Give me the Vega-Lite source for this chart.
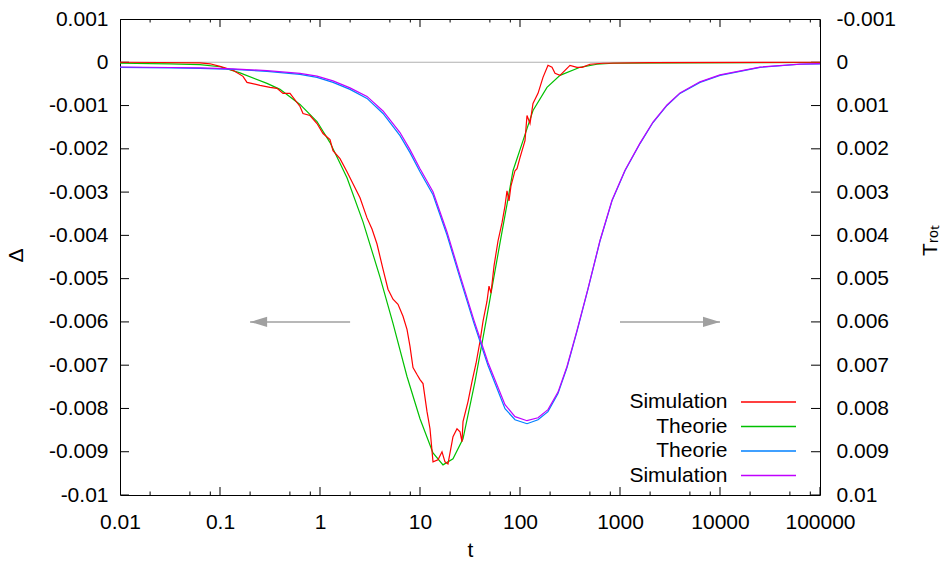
{
  "$schema": "https://vega.github.io/schema/vega-lite/v6.json",
  "width": 700,
  "height": 476,
  "autosize": {"type": "none"},
  "padding": {"left": 120, "top": 19, "right": 123, "bottom": 67},
  "config": {
    "font": "Liberation Sans",
    "view": {"stroke": "black", "strokeWidth": 1},
    "axis": {
      "domain": false,
      "grid": false,
      "ticks": false,
      "labelColor": "black",
      "labelFontSize": 21,
      "labelFont": "Liberation Sans",
      "titleFont": "Liberation Sans",
      "titleFontSize": 21,
      "titleFontWeight": "normal",
      "titleColor": "black",
      "labelOverlap": false,
      "labelFlush": false
    }
  },
  "datasets": {
    "zero": [{"v": 0}],
    "xticks": [
      {"t": 0.01}, {"t": 0.02}, {"t": 0.05}, {"t": 0.08},
      {"t": 0.1}, {"t": 0.2}, {"t": 0.5}, {"t": 0.8},
      {"t": 1}, {"t": 2}, {"t": 5}, {"t": 8},
      {"t": 10}, {"t": 20}, {"t": 50}, {"t": 80},
      {"t": 100}, {"t": 200}, {"t": 500}, {"t": 800},
      {"t": 1000}, {"t": 2000}, {"t": 5000}, {"t": 8000},
      {"t": 10000}, {"t": 20000}, {"t": 50000}, {"t": 80000},
      {"t": 100000}
    ],
    "yticks": [
      {"v": -0.01}, {"v": -0.009}, {"v": -0.008}, {"v": -0.007}, {"v": -0.006}, {"v": -0.005},
      {"v": -0.004}, {"v": -0.003}, {"v": -0.002}, {"v": -0.001}, {"v": 0}, {"v": 0.001}
    ],
    "arrows": [
      {"from": 2, "to": 0.2, "level": -0.006, "dir": "left"},
      {"from": 1000, "to": 10000, "level": -0.006, "dir": "right"}
    ],
    "delta": [
      {"t": 0.01, "v": -0.000023, "s": "Theorie Δ"},
      {"t": 0.03162, "v": -0.000035, "s": "Theorie Δ"},
      {"t": 0.0631, "v": -0.000053, "s": "Theorie Δ"},
      {"t": 0.1, "v": -0.000104, "s": "Theorie Δ"},
      {"t": 0.1585, "v": -0.000244, "s": "Theorie Δ"},
      {"t": 0.2951, "v": -0.000487, "s": "Theorie Δ"},
      {"t": 0.3981, "v": -0.000626, "s": "Theorie Δ"},
      {"t": 0.631, "v": -0.000974, "s": "Theorie Δ"},
      {"t": 0.9333, "v": -0.001369, "s": "Theorie Δ"},
      {"t": 1.259, "v": -0.001856, "s": "Theorie Δ"},
      {"t": 1.862, "v": -0.002668, "s": "Theorie Δ"},
      {"t": 2.692, "v": -0.003689, "s": "Theorie Δ"},
      {"t": 3.981, "v": -0.004965, "s": "Theorie Δ"},
      {"t": 5.37, "v": -0.006032, "s": "Theorie Δ"},
      {"t": 7.413, "v": -0.007262, "s": "Theorie Δ"},
      {"t": 10, "v": -0.008237, "s": "Theorie Δ"},
      {"t": 13.49, "v": -0.009026, "s": "Theorie Δ"},
      {"t": 16.98, "v": -0.009304, "s": "Theorie Δ"},
      {"t": 21.38, "v": -0.009165, "s": "Theorie Δ"},
      {"t": 26.92, "v": -0.008701, "s": "Theorie Δ"},
      {"t": 35.48, "v": -0.007378, "s": "Theorie Δ"},
      {"t": 45.71, "v": -0.005986, "s": "Theorie Δ"},
      {"t": 53.7, "v": -0.005081, "s": "Theorie Δ"},
      {"t": 63.1, "v": -0.004176, "s": "Theorie Δ"},
      {"t": 75.86, "v": -0.003155, "s": "Theorie Δ"},
      {"t": 85.11, "v": -0.002506, "s": "Theorie Δ"},
      {"t": 107.2, "v": -0.00181, "s": "Theorie Δ"},
      {"t": 134.9, "v": -0.001114, "s": "Theorie Δ"},
      {"t": 186.2, "v": -0.00058, "s": "Theorie Δ"},
      {"t": 251.2, "v": -0.000302, "s": "Theorie Δ"},
      {"t": 398.1, "v": -0.000116, "s": "Theorie Δ"},
      {"t": 588.8, "v": -0.000046, "s": "Theorie Δ"},
      {"t": 851.1, "v": -0.000023, "s": "Theorie Δ"},
      {"t": 3981, "v": -0.000012, "s": "Theorie Δ"},
      {"t": 100000, "v": -0.000005, "s": "Theorie Δ"},
      {"t": 0.01, "v": 0, "s": "Simulation Δ"},
      {"t": 0.02512, "v": -0.000005, "s": "Simulation Δ"},
      {"t": 0.0631, "v": -0.000012, "s": "Simulation Δ"},
      {"t": 0.07943, "v": -0.000035, "s": "Simulation Δ"},
      {"t": 0.1, "v": -0.000093, "s": "Simulation Δ"},
      {"t": 0.1349, "v": -0.000186, "s": "Simulation Δ"},
      {"t": 0.1698, "v": -0.000325, "s": "Simulation Δ"},
      {"t": 0.1862, "v": -0.000464, "s": "Simulation Δ"},
      {"t": 0.2512, "v": -0.000534, "s": "Simulation Δ"},
      {"t": 0.3162, "v": -0.00058, "s": "Simulation Δ"},
      {"t": 0.3715, "v": -0.000603, "s": "Simulation Δ"},
      {"t": 0.4266, "v": -0.000719, "s": "Simulation Δ"},
      {"t": 0.5012, "v": -0.000719, "s": "Simulation Δ"},
      {"t": 0.631, "v": -0.001021, "s": "Simulation Δ"},
      {"t": 0.6761, "v": -0.001183, "s": "Simulation Δ"},
      {"t": 0.7943, "v": -0.00123, "s": "Simulation Δ"},
      {"t": 0.9333, "v": -0.001415, "s": "Simulation Δ"},
      {"t": 1.072, "v": -0.001647, "s": "Simulation Δ"},
      {"t": 1.259, "v": -0.001787, "s": "Simulation Δ"},
      {"t": 1.349, "v": -0.002042, "s": "Simulation Δ"},
      {"t": 1.585, "v": -0.002227, "s": "Simulation Δ"},
      {"t": 1.862, "v": -0.002529, "s": "Simulation Δ"},
      {"t": 2.138, "v": -0.002807, "s": "Simulation Δ"},
      {"t": 2.512, "v": -0.003132, "s": "Simulation Δ"},
      {"t": 2.951, "v": -0.003596, "s": "Simulation Δ"},
      {"t": 3.311, "v": -0.003852, "s": "Simulation Δ"},
      {"t": 3.715, "v": -0.0042, "s": "Simulation Δ"},
      {"t": 4.266, "v": -0.00478, "s": "Simulation Δ"},
      {"t": 4.786, "v": -0.005244, "s": "Simulation Δ"},
      {"t": 5.37, "v": -0.005476, "s": "Simulation Δ"},
      {"t": 6.026, "v": -0.005592, "s": "Simulation Δ"},
      {"t": 6.761, "v": -0.00587, "s": "Simulation Δ"},
      {"t": 7.413, "v": -0.006172, "s": "Simulation Δ"},
      {"t": 7.943, "v": -0.006566, "s": "Simulation Δ"},
      {"t": 8.511, "v": -0.007053, "s": "Simulation Δ"},
      {"t": 9.333, "v": -0.007216, "s": "Simulation Δ"},
      {"t": 10, "v": -0.007332, "s": "Simulation Δ"},
      {"t": 10.72, "v": -0.007425, "s": "Simulation Δ"},
      {"t": 11.75, "v": -0.008074, "s": "Simulation Δ"},
      {"t": 12.59, "v": -0.008469, "s": "Simulation Δ"},
      {"t": 13.49, "v": -0.009234, "s": "Simulation Δ"},
      {"t": 15.14, "v": -0.009188, "s": "Simulation Δ"},
      {"t": 16.6, "v": -0.009002, "s": "Simulation Δ"},
      {"t": 17.78, "v": -0.009234, "s": "Simulation Δ"},
      {"t": 19.05, "v": -0.009281, "s": "Simulation Δ"},
      {"t": 21.38, "v": -0.008654, "s": "Simulation Δ"},
      {"t": 23.44, "v": -0.008469, "s": "Simulation Δ"},
      {"t": 25.12, "v": -0.008538, "s": "Simulation Δ"},
      {"t": 26.3, "v": -0.00877, "s": "Simulation Δ"},
      {"t": 26.92, "v": -0.008306, "s": "Simulation Δ"},
      {"t": 30.2, "v": -0.007842, "s": "Simulation Δ"},
      {"t": 33.11, "v": -0.007378, "s": "Simulation Δ"},
      {"t": 36.31, "v": -0.006961, "s": "Simulation Δ"},
      {"t": 39.81, "v": -0.00645, "s": "Simulation Δ"},
      {"t": 42.66, "v": -0.005986, "s": "Simulation Δ"},
      {"t": 46.77, "v": -0.005522, "s": "Simulation Δ"},
      {"t": 48.98, "v": -0.005174, "s": "Simulation Δ"},
      {"t": 51.29, "v": -0.005336, "s": "Simulation Δ"},
      {"t": 54.95, "v": -0.00471, "s": "Simulation Δ"},
      {"t": 60.26, "v": -0.00413, "s": "Simulation Δ"},
      {"t": 66.07, "v": -0.003712, "s": "Simulation Δ"},
      {"t": 70.79, "v": -0.003318, "s": "Simulation Δ"},
      {"t": 74.13, "v": -0.00297, "s": "Simulation Δ"},
      {"t": 77.62, "v": -0.003202, "s": "Simulation Δ"},
      {"t": 81.28, "v": -0.002854, "s": "Simulation Δ"},
      {"t": 89.13, "v": -0.002506, "s": "Simulation Δ"},
      {"t": 93.33, "v": -0.002459, "s": "Simulation Δ"},
      {"t": 100, "v": -0.002204, "s": "Simulation Δ"},
      {"t": 112.2, "v": -0.00181, "s": "Simulation Δ"},
      {"t": 117.5, "v": -0.00123, "s": "Simulation Δ"},
      {"t": 125.9, "v": -0.001415, "s": "Simulation Δ"},
      {"t": 134.9, "v": -0.000951, "s": "Simulation Δ"},
      {"t": 151.4, "v": -0.000719, "s": "Simulation Δ"},
      {"t": 169.8, "v": -0.000348, "s": "Simulation Δ"},
      {"t": 190.5, "v": -0.00007, "s": "Simulation Δ"},
      {"t": 208.9, "v": -0.000116, "s": "Simulation Δ"},
      {"t": 223.9, "v": -0.000255, "s": "Simulation Δ"},
      {"t": 251.2, "v": -0.000302, "s": "Simulation Δ"},
      {"t": 281.8, "v": -0.000186, "s": "Simulation Δ"},
      {"t": 316.2, "v": -0.00007, "s": "Simulation Δ"},
      {"t": 371.5, "v": -0.000116, "s": "Simulation Δ"},
      {"t": 416.9, "v": -0.000116, "s": "Simulation Δ"},
      {"t": 501.2, "v": -0.000046, "s": "Simulation Δ"},
      {"t": 676.1, "v": -0.000023, "s": "Simulation Δ"},
      {"t": 1995, "v": -0.000007, "s": "Simulation Δ"},
      {"t": 100000, "v": 0, "s": "Simulation Δ"}
    ],
    "trot": [
      {"t": 0.01, "v": 0.000116, "s": "Theorie Trot"},
      {"t": 0.03162, "v": 0.000128, "s": "Theorie Trot"},
      {"t": 0.0631, "v": 0.000139, "s": "Theorie Trot"},
      {"t": 0.1349, "v": 0.000162, "s": "Theorie Trot"},
      {"t": 0.2951, "v": 0.000209, "s": "Theorie Trot"},
      {"t": 0.631, "v": 0.000278, "s": "Theorie Trot"},
      {"t": 0.9333, "v": 0.000348, "s": "Theorie Trot"},
      {"t": 1.349, "v": 0.000464, "s": "Theorie Trot"},
      {"t": 1.995, "v": 0.000626, "s": "Theorie Trot"},
      {"t": 2.951, "v": 0.000835, "s": "Theorie Trot"},
      {"t": 4.266, "v": 0.001183, "s": "Theorie Trot"},
      {"t": 6.31, "v": 0.001694, "s": "Theorie Trot"},
      {"t": 7.943, "v": 0.002088, "s": "Theorie Trot"},
      {"t": 10, "v": 0.002529, "s": "Theorie Trot"},
      {"t": 13.49, "v": 0.003063, "s": "Theorie Trot"},
      {"t": 18.62, "v": 0.003991, "s": "Theorie Trot"},
      {"t": 25.12, "v": 0.004989, "s": "Theorie Trot"},
      {"t": 34.67, "v": 0.006033, "s": "Theorie Trot"},
      {"t": 47.86, "v": 0.007007, "s": "Theorie Trot"},
      {"t": 70.79, "v": 0.008005, "s": "Theorie Trot"},
      {"t": 89.13, "v": 0.00826, "s": "Theorie Trot"},
      {"t": 117.5, "v": 0.008353, "s": "Theorie Trot"},
      {"t": 151.4, "v": 0.00826, "s": "Theorie Trot"},
      {"t": 190.5, "v": 0.008074, "s": "Theorie Trot"},
      {"t": 239.9, "v": 0.007657, "s": "Theorie Trot"},
      {"t": 295.1, "v": 0.007053, "s": "Theorie Trot"},
      {"t": 371.5, "v": 0.006218, "s": "Theorie Trot"},
      {"t": 478.6, "v": 0.005244, "s": "Theorie Trot"},
      {"t": 631, "v": 0.00413, "s": "Theorie Trot"},
      {"t": 831.8, "v": 0.003202, "s": "Theorie Trot"},
      {"t": 1122, "v": 0.002506, "s": "Theorie Trot"},
      {"t": 1585, "v": 0.001879, "s": "Theorie Trot"},
      {"t": 2138, "v": 0.001392, "s": "Theorie Trot"},
      {"t": 2951, "v": 0.000998, "s": "Theorie Trot"},
      {"t": 3981, "v": 0.000719, "s": "Theorie Trot"},
      {"t": 6310, "v": 0.000464, "s": "Theorie Trot"},
      {"t": 10000, "v": 0.000302, "s": "Theorie Trot"},
      {"t": 25120, "v": 0.000116, "s": "Theorie Trot"},
      {"t": 63100, "v": 0.000046, "s": "Theorie Trot"},
      {"t": 100000, "v": 0.000035, "s": "Theorie Trot"},
      {"t": 0.01, "v": 0.000109, "s": "Simulation Trot"},
      {"t": 0.03162, "v": 0.000121, "s": "Simulation Trot"},
      {"t": 0.0631, "v": 0.00013, "s": "Simulation Trot"},
      {"t": 0.1349, "v": 0.000151, "s": "Simulation Trot"},
      {"t": 0.2951, "v": 0.000193, "s": "Simulation Trot"},
      {"t": 0.631, "v": 0.000255, "s": "Simulation Trot"},
      {"t": 0.9333, "v": 0.00032, "s": "Simulation Trot"},
      {"t": 1.349, "v": 0.000429, "s": "Simulation Trot"},
      {"t": 1.995, "v": 0.000592, "s": "Simulation Trot"},
      {"t": 2.951, "v": 0.000789, "s": "Simulation Trot"},
      {"t": 4.266, "v": 0.001125, "s": "Simulation Trot"},
      {"t": 6.31, "v": 0.001624, "s": "Simulation Trot"},
      {"t": 7.943, "v": 0.002019, "s": "Simulation Trot"},
      {"t": 10, "v": 0.002459, "s": "Simulation Trot"},
      {"t": 13.49, "v": 0.002993, "s": "Simulation Trot"},
      {"t": 18.62, "v": 0.003921, "s": "Simulation Trot"},
      {"t": 25.12, "v": 0.004919, "s": "Simulation Trot"},
      {"t": 34.67, "v": 0.005963, "s": "Simulation Trot"},
      {"t": 47.86, "v": 0.006938, "s": "Simulation Trot"},
      {"t": 70.79, "v": 0.007912, "s": "Simulation Trot"},
      {"t": 89.13, "v": 0.00819, "s": "Simulation Trot"},
      {"t": 117.5, "v": 0.008283, "s": "Simulation Trot"},
      {"t": 151.4, "v": 0.008214, "s": "Simulation Trot"},
      {"t": 190.5, "v": 0.008028, "s": "Simulation Trot"},
      {"t": 239.9, "v": 0.007622, "s": "Simulation Trot"},
      {"t": 295.1, "v": 0.00703, "s": "Simulation Trot"},
      {"t": 371.5, "v": 0.006195, "s": "Simulation Trot"},
      {"t": 478.6, "v": 0.005232, "s": "Simulation Trot"},
      {"t": 631, "v": 0.004118, "s": "Simulation Trot"},
      {"t": 831.8, "v": 0.00319, "s": "Simulation Trot"},
      {"t": 1122, "v": 0.002494, "s": "Simulation Trot"},
      {"t": 1585, "v": 0.001868, "s": "Simulation Trot"},
      {"t": 2138, "v": 0.001381, "s": "Simulation Trot"},
      {"t": 2951, "v": 0.000986, "s": "Simulation Trot"},
      {"t": 3981, "v": 0.000708, "s": "Simulation Trot"},
      {"t": 6310, "v": 0.000452, "s": "Simulation Trot"},
      {"t": 10000, "v": 0.00029, "s": "Simulation Trot"},
      {"t": 25120, "v": 0.000111, "s": "Simulation Trot"},
      {"t": 63100, "v": 0.000042, "s": "Simulation Trot"},
      {"t": 100000, "v": 0.00003, "s": "Simulation Trot"}
    ]
  },
  "layer": [
    {
      "layer": [
        {
          "data": {"name": "zero"},
          "mark": {"type": "rule", "color": "#b0b0b0", "strokeWidth": 1.2},
          "encoding": {
            "y": {"field": "v", "type": "quantitative"}
          }
        },
        {
          "data": {"name": "xticks"},
          "mark": {"type": "tick", "orient": "vertical", "color": "black", "thickness": 1, "clip": true, "opacity": 1},
          "encoding": {
            "x": {"field": "t", "type": "quantitative"},
            "y": {"datum": -0.01, "type": "quantitative"},
            "size": {"condition": {"test": "abs(log(datum.t)/LN10 - round(log(datum.t)/LN10)) < 0.001", "value": 16}, "value": 7}
          }
        },
        {
          "data": {"name": "xticks"},
          "mark": {"type": "tick", "orient": "vertical", "color": "black", "thickness": 1, "clip": true, "opacity": 1},
          "encoding": {
            "x": {"field": "t", "type": "quantitative"},
            "y": {"datum": 0.001, "type": "quantitative"},
            "size": {"condition": {"test": "abs(log(datum.t)/LN10 - round(log(datum.t)/LN10)) < 0.001", "value": 16}, "value": 7}
          }
        },
        {
          "data": {"name": "yticks"},
          "mark": {"type": "tick", "orient": "horizontal", "color": "black", "thickness": 1, "clip": true, "opacity": 1, "size": 18},
          "encoding": {
            "x": {"datum": 0.01, "type": "quantitative"},
            "y": {"field": "v", "type": "quantitative"}
          }
        },
        {
          "data": {"name": "yticks"},
          "mark": {"type": "tick", "orient": "horizontal", "color": "black", "thickness": 1, "clip": true, "opacity": 1, "size": 18},
          "encoding": {
            "x": {"datum": 100000, "type": "quantitative"},
            "y": {"field": "v", "type": "quantitative"}
          }
        },
        {
          "data": {"name": "arrows"},
          "mark": {"type": "rule", "color": "#a0a0a0", "strokeWidth": 1.5},
          "encoding": {
            "x": {"field": "from", "type": "quantitative"},
            "x2": {"field": "to"},
            "y": {"field": "level", "type": "quantitative"}
          }
        },
        {
          "data": {"name": "arrows"},
          "mark": {"type": "point", "filled": true, "color": "#a0a0a0", "opacity": 1, "size": 1156},
          "encoding": {
            "x": {"field": "to", "type": "quantitative"},
            "y": {"field": "level", "type": "quantitative"},
            "shape": {
              "field": "dir",
              "type": "nominal",
              "scale": {"domain": ["left", "right"], "range": ["M0,0L1,-0.3L1,0.3Z", "M0,0L-1,-0.3L-1,0.3Z"]},
              "legend": null
            }
          }
        },
        {
          "data": {"name": "delta"},
          "mark": {"type": "line", "strokeWidth": 1.2},
          "encoding": {
            "x": {
              "field": "t",
              "type": "quantitative",
              "scale": {"type": "log", "domain": [0.01, 100000], "nice": false},
              "axis": {
                "orient": "bottom",
                "values": [0.01, 0.1, 1, 10, 100, 1000, 10000, 100000],
                "format": "~g",
                "labelPadding": 16,
                "labelBaseline": "top",
                "title": "t",
                "titleX": 350,
                "titleY": 55,
                "titleAlign": "center",
                "titleBaseline": "middle",
                "titleAngle": 0
              }
            },
            "y": {
              "field": "v",
              "type": "quantitative",
              "scale": {"domain": [-0.01, 0.001], "nice": false, "zero": false},
              "axis": {
                "orient": "left",
                "values": [-0.01, -0.009, -0.008, -0.007, -0.006, -0.005, -0.004, -0.003, -0.002, -0.001, 0, 0.001],
                "labelExpr": "(datum.value < -1e-9 ? '-' : '') + format(abs(datum.value), '.3~f')",
                "labelPadding": 12,
                "labelAlign": "right",
                "labelBaseline": "middle",
                "title": "Δ",
                "titleX": -104,
                "titleY": 236,
                "titleAlign": "center",
                "titleBaseline": "middle",
                "titleAngle": 270
              }
            },
            "color": {
              "field": "s",
              "type": "nominal",
              "scale": {
                "domain": ["Simulation Δ", "Theorie Δ", "Theorie Trot", "Simulation Trot"],
                "range": ["#ff0000", "#00c000", "#0080ff", "#c000ff"]
              },
              "legend": {
                "orient": "none",
                "legendX": 608,
                "legendY": 371,
                "title": null,
                "padding": 0,
                "symbolType": "M-2.5,0L2.5,0",
                "symbolSize": 484,
                "symbolStrokeWidth": 1.5,
                "symbolOffset": 28.5,
                "labelFontSize": 21,
                "labelFont": "Liberation Sans",
                "labelColor": "black",
                "labelAlign": "right",
                "labelBaseline": "middle",
                "labelOffset": -53,
                "labelLimit": 0,
                "labelExpr": "split(datum.label, ' ')[0]",
                "rowPadding": 2.5
              }
            }
          }
        }
      ]
    },
    {
      "data": {"name": "trot"},
      "mark": {"type": "line", "strokeWidth": 1.2},
      "encoding": {
        "x": {
          "field": "t",
          "type": "quantitative",
          "scale": {"type": "log", "domain": [0.01, 100000], "nice": false},
          "axis": null
        },
        "y": {
          "field": "v",
          "type": "quantitative",
          "scale": {"domain": [-0.001, 0.01], "reverse": true, "nice": false, "zero": false},
          "axis": {
            "orient": "right",
            "values": [-0.001, 0, 0.001, 0.002, 0.003, 0.004, 0.005, 0.006, 0.007, 0.008, 0.009, 0.01],
            "labelExpr": "(datum.value < -1e-9 ? '-' : '') + format(abs(datum.value), '.3~f')",
            "labelPadding": 16,
            "labelAlign": "left",
            "labelBaseline": "middle",
            "title": "Tᵣₒₜ",
            "titleX": 110,
            "titleY": 221,
            "titleAlign": "center",
            "titleBaseline": "middle",
            "titleAngle": 270
          }
        },
        "color": {"field": "s", "type": "nominal"}
      }
    }
  ],
  "resolve": {
    "scale": {"y": "independent"},
    "axis": {"x": "independent", "y": "independent"}
  }
}
